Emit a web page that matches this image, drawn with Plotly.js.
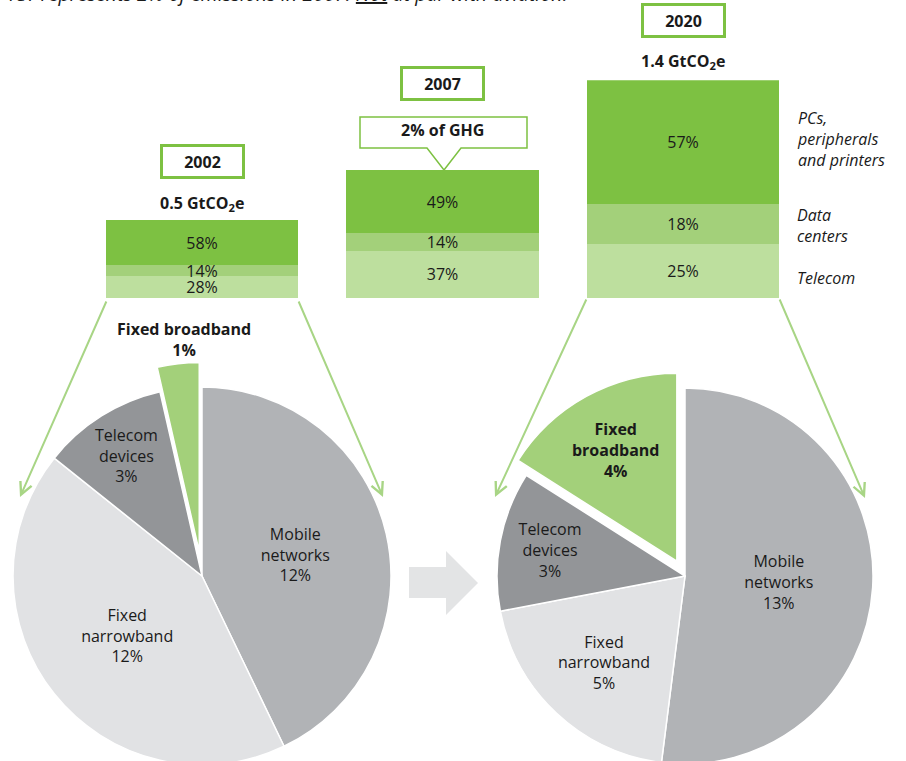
<!DOCTYPE html>
<html><head><meta charset="utf-8">
<script src="https://cdn.plot.ly/plotly-3.0.1.min.js"></script>
<style>
html,body{margin:0;padding:0;overflow:hidden;background:#fff;width:906px;height:761px;position:relative}
#chart{position:absolute;left:-40px;top:0;width:986px;height:800px}
</style>
</head><body><div id="chart"></div>
<script>
// ---------- data ----------
const years = ['2002', '2007', '2020'];
const totalsGt = [0.5, 0.82, 1.4];
const totalLabels = ['0.5 GtCO<sub>2</sub>e', '2% of GHG', '1.4 GtCO<sub>2</sub>e'];
const sharePCs = [58, 49, 57];
const shareDataCenters = [14, 14, 18];
const shareTelecom = [28, 37, 25];
const segmentNames = ['PCs,<br>peripherals<br>and printers', 'Data<br>centers', 'Telecom'];
const pieLabels2002 = ['Mobile<br>networks', 'Fixed<br>narrowband', 'Telecom<br>devices', 'Fixed broadband'];
const pieValues2002 = [12, 12, 3, 1];
const pieLabels2020 = ['Mobile<br>networks', 'Fixed<br>narrowband', 'Telecom<br>devices', 'Fixed<br>broadband'];
const pieValues2020 = [13, 5, 3, 4];
const headline = 'ICT represents 2% of emissions in 2007. <u>Not</u> at par with aviation.';

// ---------- styling / geometry ----------
const W = 986, H = 800, OX = 40;
const FONT = 'Open Sans, Noto Sans, sans-serif';
const TXT = '#1a1a1a';
const GREEN = '#7dc142', GREEN2 = '#a3d07a', GREEN3 = '#bddf9e';
const ARROWC = '#a8d585';
const px = x => (x + OX) / W;
const py = y => 1 - y / H;

const barColors = [GREEN3, GREEN2, GREEN];
const shareSets = [shareTelecom, shareDataCenters, sharePCs];
const barTraces = shareSets.map((sh, i) => ({
  type: 'bar', x: years,
  y: sh.map((s, k) => totalsGt[k] * s / 100),
  text: sh.map(s => s + '%'),
  texttemplate: '%{text}',
  textposition: 'inside', insidetextanchor: 'middle', textangle: 0,
  textfont: {size: 16, color: TXT, family: FONT},
  marker: {color: barColors[i], line: {width: 0}},
  name: segmentNames[2 - i], showlegend: false, hoverinfo: 'x+text',
  xaxis: 'x', yaxis: 'y'
}));

function pieTrace(labels, values, pullOut, domX, domY, hideLastText) {
  const n = values.length;
  return {
    type: 'pie', labels: labels, values: values, sort: false,
    direction: 'clockwise', rotation: 0,
    pull: values.map((v, i) => i === n - 1 ? pullOut : 0),
    marker: {colors: ['#b1b3b6', '#e1e2e4', '#939598', '#a3d07a'], line: {color: '#ffffff', width: 1.5}},
    texttemplate: values.map((v, i) => i === n - 1 ? (hideLastText ? '' : '<b>%{label}<br>%{value}%</b>') : '%{label}<br>%{value}%'),
    textposition: 'inside',
    insidetextorientation: 'horizontal',
    textfont: {size: 16, color: TXT, family: FONT},
    showlegend: false, hoverinfo: 'label+value',
    domain: {x: domX, y: domY}
  };
}
// 2002 pie: centre (202,576), r 189, pull .13
const h02 = 189 * 1.13;
const pie02 = pieTrace(pieLabels2002, pieValues2002, 0.13,
  [px(202 - h02), px(202 + h02)], [py(576 + h02), py(576 - h02)], true);
// 2020 pie: centre (685,576), r 188, pull .09
const h20 = 188 * 1.09;
const pie20 = pieTrace(pieLabels2020, pieValues2020, 0.09,
  [px(685 - h20), px(685 + h20)], [py(576 + h20), py(576 - h20)], false);

const annotations = [];
// headline (clipped at top)
annotations.push({xref: 'paper', yref: 'paper', x: px(7), y: py(-6.5), xanchor: 'left', yanchor: 'middle',
  text: '<i>' + headline + '</i>', showarrow: false, font: {size: 19.7, color: TXT, family: FONT}});
// outside label of the small 2002 broadband slice
annotations.push({xref: 'paper', yref: 'paper', x: px(184), y: py(339), xanchor: 'center', yanchor: 'middle',
  text: '<b>' + pieLabels2002[3] + '<br>' + pieValues2002[3] + '%</b>', showarrow: false,
  font: {size: 16, color: TXT, family: FONT}});
// year boxes
const yearShift = [58.5, 87, 59.5];
years.forEach((yr, k) => annotations.push({xref: 'x', yref: 'y', x: k, y: totalsGt[k], yanchor: 'middle',
  yshift: yearShift[k], text: '<b>' + yr + '</b>', showarrow: false, font: {size: 16, color: TXT, family: FONT},
  bgcolor: '#ffffff', bordercolor: GREEN, borderwidth: 3, borderpad: 2, width: 75, height: 25}));
// totals
const totShift = [17, 40, 18.5];
years.forEach((yr, k) => annotations.push({xref: 'x', yref: 'y', x: k, y: totalsGt[k], yanchor: 'middle',
  yshift: totShift[k], text: '<b>' + totalLabels[k] + '</b>', showarrow: false,
  font: {size: 16, color: TXT, family: FONT}}));
// segment names (right of 2020 bar)
const last = totalsGt.length - 1;
const segMid = [
  totalsGt[last] * (shareTelecom[last] + shareDataCenters[last] + sharePCs[last] / 2) / 100,
  totalsGt[last] * (shareTelecom[last] + shareDataCenters[last] / 2) / 100,
  totalsGt[last] * (shareTelecom[last] / 2) / 100
];
const segShift = [3, -2, -7];
segmentNames.forEach((nm, i) => annotations.push({xref: 'paper', yref: 'y', x: px(795), y: segMid[i],
  xanchor: 'left', yanchor: 'middle', align: 'left', yshift: segShift[i], text: '<i>' + nm + '</i>',
  showarrow: false, font: {size: 16, color: TXT, family: FONT}}));
// funnel arrows
const arrows = [[107, 300, 20, 497], [298, 300, 383, 497], [587, 298, 495, 497], [779, 298, 865, 498]];
arrows.forEach(a => annotations.push({xref: 'paper', yref: 'paper', x: px(a[2]), y: py(a[3]),
  ax: a[0] - a[2], ay: a[1] - a[3], axref: 'pixel', ayref: 'pixel', text: '', showarrow: true,
  arrowhead: 5, arrowsize: 1.2, arrowwidth: 2, arrowcolor: ARROWC, standoff: 0}));

function path(pts) {
  return 'M' + pts.map(p => px(p[0]) + ',' + py(p[1])).join(' L') + ' Z';
}
const shapes = [
  // 2% of GHG callout
  {type: 'path', xref: 'paper', yref: 'paper', layer: 'below',
   path: path([[360, 117], [527, 117], [527, 148], [461, 148], [444, 170], [427, 148], [360, 148]]),
   line: {color: GREEN, width: 1.5}, fillcolor: '#ffffff'},
  // grey block arrow between pies
  {type: 'path', xref: 'paper', yref: 'paper', layer: 'below',
   path: path([[409, 567], [446, 567], [446, 551], [478, 583], [446, 615], [446, 598], [409, 598]]),
   line: {width: 0}, fillcolor: '#e3e4e5'}
];

const layout = {
  width: W, height: H, margin: {l: 0, r: 0, t: 0, b: 0},
  paper_bgcolor: '#ffffff', plot_bgcolor: 'rgba(0,0,0,0)',
  font: {family: FONT, color: TXT, size: 16},
  barmode: 'stack', bargap: 0.2, showlegend: false,
  uniformtext: {mode: 'show', minsize: 16},
  xaxis: {type: 'category', domain: [0, 1], range: [-(202 + OX) / 240.5, (W - 202 - OX) / 240.5],
          visible: false, fixedrange: true},
  yaxis: {domain: [py(298), py(298 - 1.4 * 155.5)], range: [0, 1.4], visible: false, fixedrange: true},
  annotations: annotations, shapes: shapes
};

Plotly.newPlot('chart', [pie02, pie20].concat(barTraces), layout, {displayModeBar: false, staticPlot: true});
</script>
</body></html>
